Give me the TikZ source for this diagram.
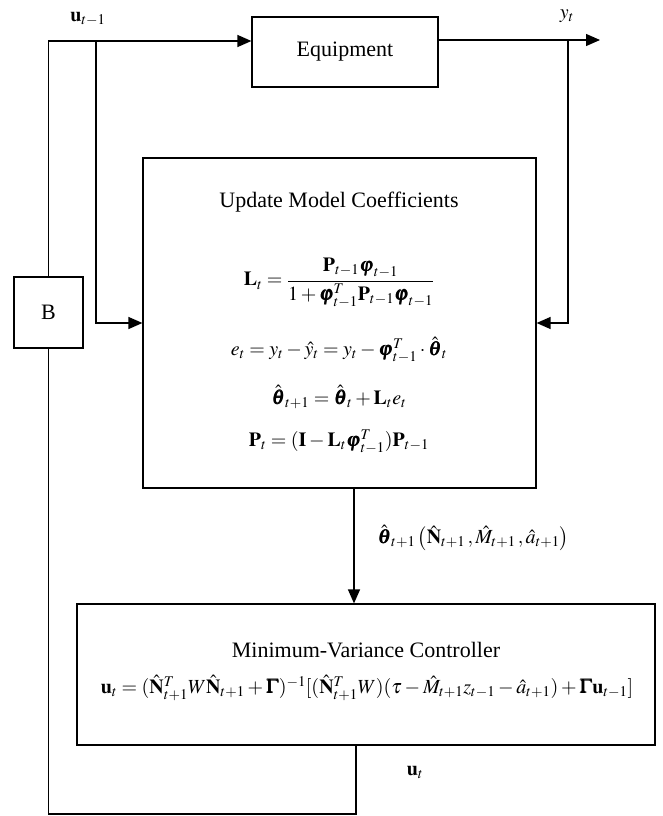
\documentclass[tikz,border=0pt]{standalone}
\usepackage{amsmath}
\usepackage{mathptmx}
\usepackage{bm}
\usepackage[no-math]{fontspec}
\setmainfont{Liberation Serif}
\usetikzlibrary{arrows.meta}
\begin{document}
\begin{tikzpicture}[x=1pt,y=-1pt,line width=1.3pt,
  font=\fontsize{22}{26}\selectfont,
  box/.style={draw,line width=1.2pt,inner sep=0pt,anchor=center},
  arr/.style={-{Triangle[length=14pt,width=12pt]}},
  txt/.style={inner sep=1pt},
  mth/.style={inner sep=1pt,font=\fontsize{20}{24}\selectfont}]
\useasboundingbox (0,0) rectangle (662,816);
% blocks
\node[box,minimum width=186pt,minimum height=70pt] (equip) at (345,52) {Equipment};
\node[box,minimum width=393pt,minimum height=330pt] (upd) at (339.5,323) {};
\node[box,minimum width=69pt,minimum height=71pt] (B) at (48.5,312.5) {B};
\node[box,minimum width=578pt,minimum height=141pt] (ctrl) at (366,674.5) {};
% contents of update block
\node[txt] (updtitle) at (339,202) {Update Model Coefficients};
\node[mth] (eqL) at (339,283) {$\mathbf{L}_t=\dfrac{\mathbf{P}_{t-1}\bm{\varphi}_{t-1}}{1+\bm{\varphi}_{t-1}^{T}\mathbf{P}_{t-1}\bm{\varphi}_{t-1}}$};
\node[mth] (eqE) at (339,350) {$e_t=y_t-\hat{y}_t=y_t-\bm{\varphi}_{t-1}^{T}\cdot\hat{\bm{\theta}}_t$};
\node[mth] (eqT) at (339,397) {$\hat{\bm{\theta}}_{t+1}=\hat{\bm{\theta}}_t+\mathbf{L}_t e_t$};
\node[mth] (eqP) at (339,442) {$\mathbf{P}_t=(\mathbf{I}-\mathbf{L}_t\bm{\varphi}_{t-1}^{T})\mathbf{P}_{t-1}$};
% contents of controller block
\node[txt] (ctitle) at (366,650) {Minimum-Variance Controller};
\node[mth] (eqU) at (367,688) {$\mathbf{u}_t=(\hat{\mathbf{N}}_{t+1}^{T}W\hat{\mathbf{N}}_{t+1}+\bm{\Gamma})^{-1}[(\hat{\mathbf{N}}_{t+1}^{T}W)(\tau-\hat{M}_{t+1}z_{t-1}-\hat{a}_{t+1})+\bm{\Gamma}\mathbf{u}_{t-1}]$};
% labels
\node[mth] (ulabel) at (88,19) {$\mathbf{u}_{t-1}$};
\node[mth] (ylabel) at (567,16) {$y_t$};
\node[mth,anchor=west] (thlabel) at (376,538) {$\hat{\bm{\theta}}_{t+1}\left(\hat{\mathbf{N}}_{t+1}\,,\hat{M}_{t+1}\,,\hat{a}_{t+1}\right)$};
\node[mth] (utlabel) at (415,772) {$\mathbf{u}_t$};
% coordinates
\coordinate (topleft) at (48.5,41);
\coordinate (branch) at (96,41);
\coordinate (yout) at (600,40);
\coordinate (ytap) at (568,40);
\coordinate (fbR) at (356,814);
\coordinate (fbL) at (48.5,814);
% connectors
\draw[arr] (B.north) -- (topleft) -- (equip.west |- topleft);
\draw[arr] (branch) -- (branch |- upd.west) -- (upd.west);
\draw[arr] (equip.east |- yout) -- (yout);
\draw[arr] (ytap) -- (ytap |- upd.east) -- (upd.east);
\draw[arr] ([xshift=14.5pt]upd.south) -- ([xshift=-12pt]ctrl.north);
\draw ([xshift=-10pt]ctrl.south) -- (fbR) -- (fbL) -- (B.south);
\end{tikzpicture}
\end{document}
